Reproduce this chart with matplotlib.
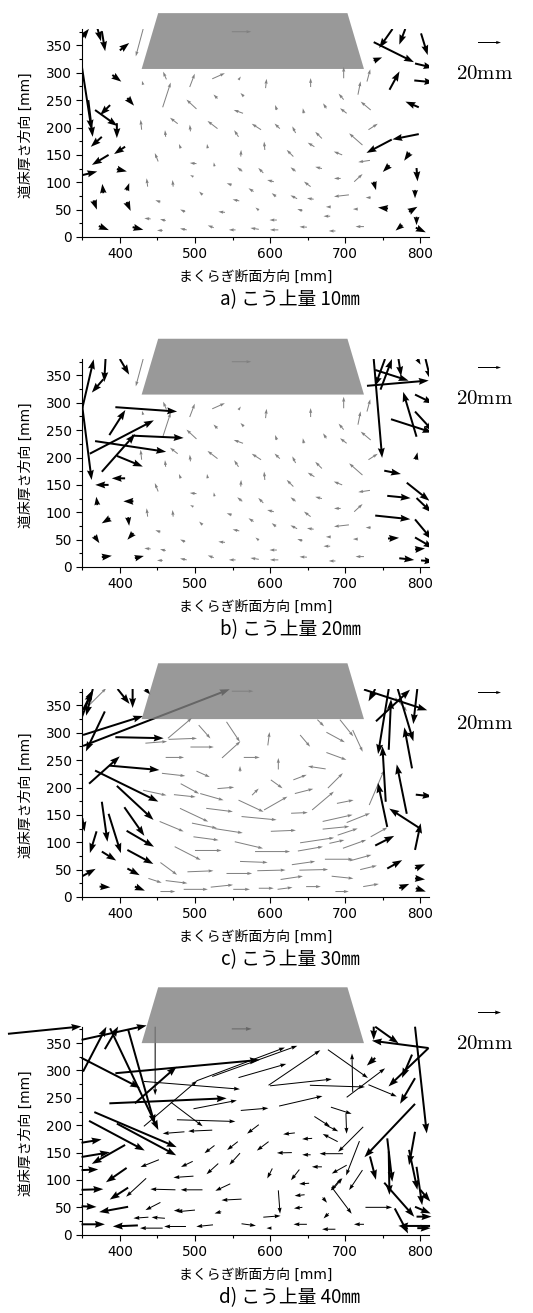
import numpy as np
import matplotlib
matplotlib.use('Agg')
import matplotlib.pyplot as plt
from matplotlib.patches import Polygon
from matplotlib.ticker import MultipleLocator

plt.rcParams['font.family'] = ['DejaVu Sans', 'Noto Sans CJK JP']
plt.rcParams['mathtext.fontset'] = 'cm'

# ---- data: arrows as (x [mm], y [mm], dx [mm], dy [mm]) ----
# small grey arrows, identical in a) and b)
AB_GRAY = [
    (431, 278, -1.0, 3.5), (462, 288, -2.9, 6.7), (493, 274, 4.4, 11.6), (523, 289, 11.0, 4.9),
    (558, 287, 2.0, 3.0), (594, 272, 0.9, 8.1), (654, 274, 0.0, 7.8), (698, 290, 0.0, 10.0),
    (717, 260, 2.3, 11.6), (729, 284, 2.9, 10.7), (457, 237, 7.0, 21.5), (502, 234, -8.7, 8.1),
    (530, 253, -3.5, 3.5), (565, 257, -2.9, 2.9), (609, 232, -1.5, 4.4), (645, 226, -0.9, 4.4),
    (675, 235, -2.9, 4.4), (698, 251, -4.4, 5.2), (702, 226, -5.8, 4.4), (734, 232, -8.7, 7.3),
    (429, 196, -0.9, 8.7), (477, 207, -6.7, 5.2), (461, 183, -0.6, 5.8), (494, 193, -0.6, 5.8),
    (530, 198, -8.7, 6.7), (564, 226, -8.1, 2.9), (558, 183, -3.8, 5.8), (588, 196, -8.1, 5.2),
    (613, 198, -4.6, 4.4), (634, 190, -2.9, 5.8), (669, 180, -5.8, 5.8), (723, 168, -11.6, 10.2),
    (731, 196, 8.1, 5.2), (481, 162, -1.5, 3.8), (517, 162, -0.6, 3.8), (561, 147, 0.3, 5.8),
    (593, 159, -0.6, 7.3), (631, 147, -5.8, 5.8), (659, 165, -5.8, 3.5), (696, 150, -7.3, 2.9),
    (451, 138, -2.9, 7.3), (502, 134, -5.8, 0.6), (526, 129, -0.6, 3.5), (563, 120, -4.4, 3.5),
    (591, 117, -4.4, 4.4), (634, 120, -4.4, 3.5), (669, 125, -5.8, 1.5), (733, 140, -10.2, -1.5),
    (712, 101, 7.3, 6.7), (437, 92, -0.9, 7.3), (471, 92, -0.6, 5.8), (498, 110, -2.9, 1.5),
    (549, 95, -4.4, 1.5), (578, 83, -4.4, 2.9), (605, 101, -5.8, 1.5), (654, 92, -5.8, 4.4),
    (694, 107, -5.8, 0.0), (510, 77, -2.9, 2.9), (705, 77, -13.0, -1.5), (658, 69, -5.8, 0.9),
    (636, 70, -5.8, 2.9), (608, 74, -3.8, 2.9), (559, 66, -5.8, 1.2), (454, 64, -4.4, 1.5),
    (734, 72, -4.4, 0.0), (487, 46, -4.4, 2.0), (540, 45, -5.8, 0.6), (585, 49, -2.9, 2.3),
    (643, 48, -4.4, 1.5), (681, 55, -4.4, 0.0), (717, 51, -4.4, 0.0), (609, 31, -6.4, 0.0),
    (680, 38, -5.8, 0.0), (457, 12, -4.9, 0.0), (489, 13, -5.8, 1.2), (525, 17, -5.2, 2.0),
    (554, 13, -5.8, 0.0), (585, 14, -7.3, 1.2), (611, 13, -7.3, 0.0), (649, 18, -6.4, 0.3),
    (687, 11, -5.8, 0.0), (725, 19, -7.3, 0.0), (441, 33, -5.5, 0.6), (461, 30, -4.9, 1.2),
    (431, 380, -6.4, -23.8), (549, 375, 17.0, 0.0),
]

A_BOLD = [
    (350, 365, 5.8, 7.3), (370, 382, 3.2, -11.6), (376, 376, 2.9, -17.4), (400, 341, 8.1, 6.4),
    (349, 315, 8.7, -56.6), (358, 250, 3.8, -31.9), (390, 296, 7.8, -5.8), (410, 254, 5.8, -6.7),
    (367, 232, 19.4, -13.9), (387, 241, -8.7, -8.7), (396, 208, 0.0, -13.0), (376, 183, -9.6, -8.7),
    (407, 165, -9.6, -6.4), (385, 150, -14.5, -8.7), (350, 113, 13.0, 3.2), (396, 124, 8.7, -2.0),
    (378, 80, -0.9, 8.1), (409, 85, 2.3, 6.4), (365, 67, 2.9, -8.1), (409, 64, 3.5, -7.8),
    (372, 20, 8.7, -3.5), (417, 18, 9.3, -2.3),
    (738, 356, 35.0, -17.4), (763, 380, -11.6, -16.5), (780, 380, -5.2, -13.6), (801, 372, 5.8, -18.9),
    (738, 322, 7.3, 2.9), (793, 317, 16.0, -3.8), (759, 269, 8.7, 16.0), (792, 286, 17.4, -1.7),
    (798, 237, -11.6, 4.9), (798, 188, -23.0, -4.6), (762, 178, -22.0, -11.6), (786, 154, -4.9, -7.0),
    (759, 131, -5.8, -5.8), (795, 126, 0.9, -11.6), (738, 101, 2.0, -7.3), (793, 86, 0.0, -7.3),
    (757, 52, -8.7, 0.9), (785, 46, 7.3, 4.4), (795, 37, 0.0, -7.3), (776, 22, -5.8, -4.9),
    (794, 17, 8.7, -4.0),
]

B_BOLD = [
    (381, 382, -1.2, -21.0), (378, 343, -10.0, -11.6), (400, 380, 8.1, -13.6), (350, 293, 8.1, -63.8),
    (350, 290, 9.9, 42.6), (394, 292, 53.7, -3.8), (386, 241, 13.9, 21.8), (360, 207, 55.7, 29.0),
    (367, 230, 61.8, -9.3), (416, 240, 45.0, -2.0), (376, 174, 29.0, 32.8), (396, 203, 22.6, -9.3),
    (407, 162, -11.6, 0.0), (385, 150, -11.6, 0.0), (370, 113, -0.9, 7.3), (418, 120, -8.7, 0.0),
    (387, 89, -7.3, -4.4), (411, 91, 0.9, -7.5), (366, 57, 4.4, -6.4), (418, 62, -5.2, -5.8),
    (376, 18, 8.7, 1.2), (420, 16, 7.8, 2.0),
    (738, 380, 7.3, -86.0), (740, 360, 29.0, -9.3), (729, 331, 53.7, 4.6), (747, 324, 10.0, 26.7),
    (753, 380, -8.7, -23.8), (771, 380, 2.3, -15.0), (796, 380, 2.9, -4.9), (807, 380, 4.4, -18.0),
    (793, 315, 16.0, -7.8), (795, 238, -11.6, 39.0), (793, 284, 16.0, -17.4), (761, 270, 36.0, -11.6),
    (794, 196, 1.5, 6.4), (752, 176, 14.5, -2.9), (782, 154, 19.7, -15.7), (756, 130, 20.3, -2.0),
    (795, 126, 13.0, -12.5), (740, 94, 30.5, -3.2), (793, 87, 14.5, -17.4), (757, 52, 9.6, 0.6),
    (793, 54, 16.0, -9.3), (793, 32, 8.7, 0.9), (772, 16, 13.0, -1.5), (801, 12, 11.6, -0.9),
]

C_GRAY = [
    (454, 10, 13.0, 0.0), (485, 14, 21.0, 0.0), (521, 18, 19.4, 2.0), (551, 14, 14.5, 0.0),
    (585, 16, 13.0, 0.0), (610, 14, 13.0, 1.7), (648, 19, 12.8, 0.0), (687, 10, 11.6, 0.0),
    (724, 19, 13.6, 2.3), (438, 34, 11.6, -3.8), (461, 30, 18.9, -2.3), (614, 32, 19.4, 2.9),
    (682, 38, 18.9, -2.0), (454, 63, 14.5, -10.7), (490, 46, 22.6, 0.9), (542, 43, 22.3, 0.0),
    (583, 48, 24.6, 0.6), (639, 49, 25.0, 0.6), (720, 50, 14.5, 3.5), (560, 65, 24.0, -0.9),
    (629, 59, 20.3, 2.9), (673, 69, 24.6, 0.0), (706, 66, 18.9, 5.2), (500, 85, 23.2, 0.0),
    (473, 92, 22.6, -11.6), (580, 83, 30.5, 0.0), (637, 84, 21.8, 3.8), (679, 98, 13.0, 2.9),
    (697, 89, 20.3, 7.3), (498, 110, 21.8, -2.9), (553, 101, 24.6, -5.8), (640, 99, 29.6, 4.4),
    (734, 110, 14.5, 8.1), (453, 138, 20.9, -8.7), (526, 125, 24.6, -3.8), (601, 120, 21.8, 0.9),
    (670, 124, 23.2, 2.3), (690, 113, 17.4, 5.8), (496, 135, 21.8, -4.4), (562, 147, 30.5, -2.9),
    (670, 138, 26.0, 5.8), (702, 136, 20.3, 8.1), (480, 162, 24.6, -11.6), (515, 162, 23.2, -2.9),
    (558, 177, 21.8, -10.2), (592, 159, 20.3, 11.6), (628, 153, 14.5, 0.6), (656, 159, 18.9, 16.0),
    (689, 171, 14.5, 2.9), (472, 187, 18.9, -2.0), (431, 195, 20.3, -4.4), (507, 189, 20.3, -5.8),
    (530, 198, 14.5, 1.2), (576, 186, 5.8, 5.8), (601, 214, 10.2, -7.3), (633, 189, 16.0, 4.1),
    (677, 199, 13.0, 13.0), (732, 168, 13.0, 30.5), (456, 226, 20.3, -2.3), (481, 207, 16.0, -8.7),
    (502, 230, 11.6, -5.2), (631, 214, 11.6, 4.4), (560, 229, 0.0, 4.9), (611, 233, 0.0, 10.0),
    (674, 234, -15.4, 2.3), (461, 255, 16.0, 0.0), (565, 255, 13.9, 0.0), (536, 254, 16.0, 14.5),
    (675, 264, 17.4, -6.4), (494, 274, 20.3, 0.0), (505, 314, 10.2, -11.6), (542, 320, 11.6, -17.4),
    (597, 277, 1.5, 11.6), (640, 296, 8.7, -10.2), (675, 301, 16.0, -8.7), (434, 281, 18.9, 1.5),
    (465, 288, 24.6, 0.9), (464, 290, 20.9, 17.7), (693, 324, 11.6, -14.5), (663, 324, 5.8, -5.8),
    (710, 305, 8.7, -18.9), (353, 342, 18.9, 18.9), (767, 364, 10.0, -11.6), (549, 376, 18.9, 0.0),
]

C_BOLD = [
    (351, 342, 8.7, 17.4), (349, 327, 8.7, 23.2), (364, 380, -5.8, -23.2), (397, 380, 10.4, -13.0),
    (417, 380, 0.0, -16.5), (434, 380, 4.4, -4.9), (380, 339, -16.5, -34.8), (351, 296, 52.2, 16.5),
    (351, 276, 127.6, 49.3), (394, 292, 42.0, -0.9), (359, 207, 26.7, 23.8), (386, 240, 43.5, -3.8),
    (367, 231, 55.0, -27.0), (396, 203, 31.9, -29.6), (406, 164, 17.4, -24.9), (376, 174, 4.9, -34.8),
    (385, 152, 10.7, -34.2), (409, 121, 23.8, -13.9), (369, 120, -5.8, -18.9), (376, 83, 12.5, -7.8),
    (410, 86, 22.6, -12.2), (350, 144, 2.0, -11.6), (350, 38, 11.6, 6.4), (410, 52, 10.7, -5.8),
    (373, 19, 9.3, -0.6), (420, 19, 8.7, -3.5),
    (725, 379, 55.0, -18.0), (740, 380, -5.8, -10.7), (758, 380, -9.3, -56.6), (741, 321, 29.6, 27.5),
    (770, 380, 13.6, -45.5), (796, 380, -3.5, -30.5), (758, 269, 2.0, 44.0), (754, 174, -2.9, 48.4),
    (782, 152, -8.7, 43.0), (789, 235, -6.7, 35.7), (756, 128, -8.1, 38.3), (794, 187, 14.5, -1.5),
    (800, 125, -27.0, 17.4), (793, 86, 4.9, 23.2), (740, 94, 16.5, 8.4), (756, 52, 13.0, 7.3),
    (793, 52, 8.7, 3.8), (793, 34, 8.7, -0.9), (772, 16, 8.7, 3.8), (794, 16, 8.7, -2.9),
]

D_THIN = [
    (457, 12, -19.7, 0.0), (488, 15, -18.9, 0.0), (524, 18, -14.5, -1.5), (562, 20, 12.5, -1.7),
    (602, 12, -4.4, 0.0), (649, 19, -11.6, 0.0), (687, 10, -11.6, 0.0), (725, 19, -8.7, 0.0),
    (438, 32, -13.0, -0.9), (460, 30, -11.6, 0.9), (500, 45, -16.0, -1.5), (535, 42, -5.8, -1.5),
    (591, 32, 15.0, 1.2), (643, 50, -7.3, -0.9), (678, 39, -4.4, -4.4), (727, 50, 23.2, 0.0),
    (454, 59, -13.0, -6.7), (483, 45, -7.3, -0.6), (562, 65, -17.4, -0.9), (611, 81, 1.5, -20.3),
    (646, 73, -8.7, -0.9), (670, 68, 3.8, -4.6), (682, 87, 17.4, -23.2), (474, 82, -21.8, 0.6),
    (510, 82, -18.9, 0.0), (547, 93, -13.0, -6.1), (683, 82, 8.7, 10.2), (723, 118, -11.6, -17.4),
    (652, 94, -8.7, -0.6), (435, 103, -17.4, -16.0), (498, 107, -17.4, -1.2), (531, 130, -10.2, -9.3),
    (603, 121, -4.4, -8.7), (639, 119, -7.3, -9.3), (669, 124, -8.7, 0.0), (702, 127, -13.0, -7.3),
    (694, 102, -8.7, -10.2), (719, 171, -11.6, -29.9), (452, 137, -16.0, -6.4), (497, 134, -10.2, -4.9),
    (560, 149, -9.3, -10.2), (629, 150, -13.0, -0.3), (654, 146, -7.3, 0.0), (697, 148, -20.3, 0.0),
    (526, 163, -8.7, -6.7), (598, 170, -10.2, -7.8), (486, 188, -18.9, -1.5), (523, 191, -20.9, -0.9),
    (557, 170, -9.3, -7.3), (585, 201, -10.2, -7.8), (633, 186, -10.2, -1.2), (656, 176, -8.7, -0.6),
    (690, 170, -13.0, 6.7), (468, 242, 27.6, -20.9), (476, 210, 50.8, -1.5), (561, 227, 24.0, 2.0),
    (612, 235, 37.7, 8.7), (659, 216, 13.6, -8.7), (681, 233, 18.0, -5.8), (701, 221, 0.6, -17.4),
    (724, 197, -21.8, -21.8), (673, 201, 11.6, -5.8), (498, 230, 37.7, 7.3), (432, 198, 46.4, 39.7),
    (702, 251, 33.4, 25.2), (677, 338, 34.8, -24.6), (710, 261, -0.6, 33.4), (653, 273, 47.9, -1.5),
    (731, 274, 24.6, -10.2), (598, 273, 45.0, 30.5), (600, 272, 53.7, 5.8), (432, 280, 83.5, -6.7),
    (523, 289, 74.0, 26.7), (558, 287, 41.5, 11.9), (502, 281, 76.9, 29.0), (447, 380, 0.0, -59.5),
    (549, 376, 17.4, 0.0),
]

D_BOLD = [
    (349, 323, 50.8, -26.1), (387, 377, 42.0, -88.5), (411, 375, 23.2, -82.6), (351, 298, 20.3, 39.0),
    (349, 356, 56.6, 12.5), (251, 367, 63.8, 6.4), (380, 339, 11.6, 19.7), (420, 240, 36.3, 31.9),
    (394, 295, 125.6, 11.6), (386, 240, 102.0, 4.4), (366, 224, 71.6, -30.5), (359, 208, 48.4, -25.8),
    (396, 203, 51.6, -27.6), (407, 164, -29.0, -16.5), (349, 168, 17.4, 2.9), (349, 142, 24.6, 4.1),
    (409, 122, -18.0, -12.5), (411, 86, -16.0, -10.4), (411, 51, -25.2, -4.6), (424, 17, -21.8, -0.9),
    (349, 118, 14.5, 0.6), (349, 82, 18.9, 0.6), (349, 52, 13.0, -0.6), (349, 19, 20.3, 0.0),
    (811, 341, -49.3, 6.4), (811, 341, -34.8, -33.4), (793, 380, 10.2, -92.8), (740, 323, -7.3, -6.7),
    (793, 286, -13.0, -22.3), (789, 329, -8.7, -20.3), (793, 239, -44.0, -46.4), (793, 188, -5.2, -29.0),
    (756, 176, 4.4, -37.7), (758, 152, 0.6, -37.7), (785, 155, 7.3, -34.8), (795, 124, 4.9, -33.4),
    (752, 95, 26.1, -29.6), (766, 48, 11.6, -21.8), (813, 16, -27.6, 0.0), (793, 51, 13.6, -5.8),
    (795, 33, 13.0, 0.0), (796, 12, 11.6, 0.0), (800, 82, 8.7, -10.2), (733, 143, 5.2, -20.3),
    (738, 380, 0.0, -11.6), (740, 380, 20.3, -14.5),
]

# sleeper (grey trapezoid) bottom level for each lift, and its outline in x
SLEEPER_BOTTOM = [307, 315, 325, 350]
SLEEPER_HEIGHT = 102
SLEEPER_X_BOTTOM = (429, 725)
SLEEPER_X_TOP = (451, 703)

CAPTIONS = ['a) こう上量 10㎜', 'b) こう上量 20㎜', 'c) こう上量 30㎜', 'd) こう上量 40㎜']
KEY_LENGTH = 20  # mm

# ---- layout (pixels) ----
W, H = 533, 1313
AX_LEFT, AX_W, AX_H = 82.3, 347, 208
AX_BOTTOMS = [237, 567, 897, 1234.7]
KEY_Y = [41.7, 367.3, 691.7, 1011.7]
KEY_LABEL_Y = [72.7, 398.3, 722.7, 1042.7]
MM_PER_INCH = 20 / 0.23

gray_style = dict(color='#808080', units='dots', width=1.0, headwidth=3.2, headlength=5,
                  headaxislength=4.5)
bold_style = dict(color='k', units='dots', width=2.0, headwidth=3.5, headlength=5,
                  headaxislength=4.5)
thin_style = dict(color='k', units='dots', width=1.0, headwidth=4, headlength=6,
                  headaxislength=5.5)

fig = plt.figure(figsize=(W / 100, H / 100), dpi=100)


def draw_arrows(ax, rows, style, zorder, clip=True):
    a = np.array(rows, dtype=float).T
    q = ax.quiver(a[0], a[1], a[2], a[3], angles='uv', scale_units='inches',
                  scale=MM_PER_INCH, pivot='tail', zorder=zorder, **style)
    q.set_clip_on(clip)
    return q


panels = [
    (AB_GRAY, gray_style, A_BOLD, True),
    (AB_GRAY, gray_style, B_BOLD, True),
    (C_GRAY, gray_style, C_BOLD, True),
    (D_THIN, thin_style, D_BOLD, False),
]

for i, (small, small_style, bold, clip) in enumerate(panels):
    bottom = AX_BOTTOMS[i]
    ax = fig.add_axes([AX_LEFT / W, 1 - bottom / H, AX_W / W, AX_H / H])
    ax.set_xlim(350, 812)
    ax.set_ylim(0, 380)

    q = draw_arrows(ax, small, small_style, 2, clip)
    draw_arrows(ax, bold, bold_style, 3, clip)

    sb = SLEEPER_BOTTOM[i]
    st = sb + SLEEPER_HEIGHT
    trap = Polygon([(SLEEPER_X_BOTTOM[0], sb), (SLEEPER_X_BOTTOM[1], sb),
                    (SLEEPER_X_TOP[1], st), (SLEEPER_X_TOP[0], st)],
                   closed=True, facecolor='#808080', edgecolor='none', alpha=0.8,
                   clip_on=False, zorder=4)
    ax.add_patch(trap)

    ax.quiverkey(q, 488.5 / W, 1 - KEY_Y[i] / H, KEY_LENGTH, ' ', coordinates='figure',
                 color='k', labelpos='S')
    fig.text(485 / W, 1 - KEY_LABEL_Y[i] / H, r'$\mathrm{20mm}$', fontsize=15,
             ha='center', va='center')

    ax.spines['top'].set_visible(False)
    ax.spines['right'].set_visible(False)
    for s in ('left', 'bottom'):
        ax.spines[s].set_linewidth(0.8)
    ax.set_xticks([400, 500, 600, 700, 800])
    ax.set_yticks([0, 50, 100, 150, 200, 250, 300, 350])
    ax.xaxis.set_minor_locator(MultipleLocator(50))
    ax.yaxis.set_minor_locator(MultipleLocator(25))
    ax.tick_params(which='major', direction='out', length=4, width=0.8, labelsize=9.8, pad=3.5)
    ax.tick_params(which='minor', direction='out', length=2.5, width=0.8)

    ax.set_xlabel('まくらぎ断面方向 [mm]', fontsize=10, va='center')
    ax.xaxis.set_label_coords(0.5, -40 / AX_H)
    ax.set_ylabel('道床厚さ方向 [mm]', fontsize=10, va='center')
    ax.yaxis.set_label_coords(-57 / AX_W, 0.49)

    fig.text(290 / W, 1 - (bottom + 63) / H, CAPTIONS[i], fontsize=13.5,
             family=['Noto Sans CJK JP', 'DejaVu Sans'], ha='center', va='center')

fig.savefig('out.png', dpi=100)
